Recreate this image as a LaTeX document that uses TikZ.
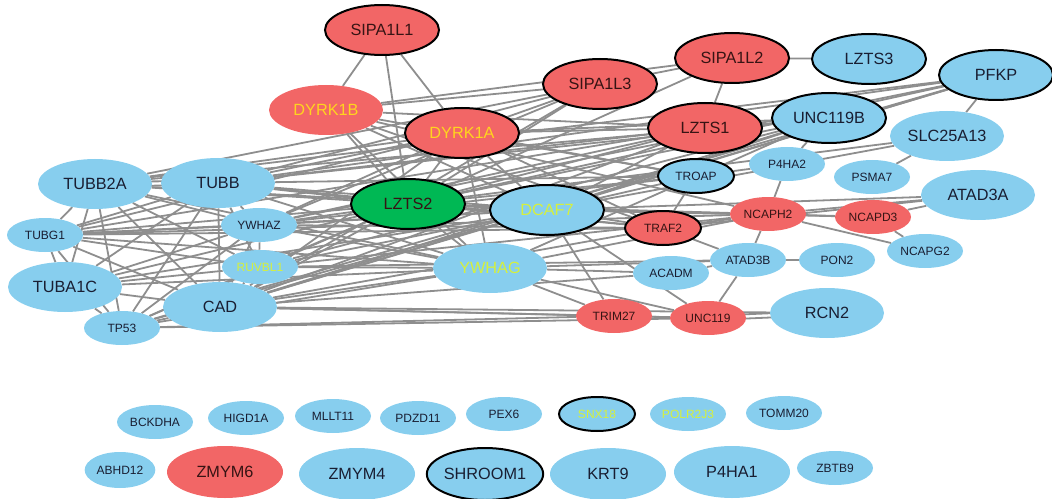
\documentclass[tikz,border=0pt]{standalone}
\usepackage{fontspec}
\setmainfont{Liberation Sans}
\usetikzlibrary{shapes.geometric}
\pgfdeclarelayer{bg}
\pgfsetlayers{bg,main}
\definecolor{nblue}{RGB}{135,206,238}
\definecolor{nred}{RGB}{242,102,102}
\definecolor{ngreen}{RGB}{0,184,84}
\definecolor{nyel}{RGB}{255,212,30}
\definecolor{nlime}{RGB}{214,240,60}
\definecolor{ntext}{RGB}{25,30,50}
\definecolor{rtext}{RGB}{55,20,20}
\definecolor{nedge}{RGB}{142,142,142}
\tikzset{
  nd/.style={ellipse, inner sep=0pt, text=ntext},
  bigE/.style={nd, minimum width=85.5pt, minimum height=37.5pt, font=\fontsize{12.2}{12}\selectfont},
  bigB/.style={nd, minimum width=87pt, minimum height=39pt, font=\fontsize{12.2}{12}\selectfont},
  smallE/.style={nd, minimum width=57pt, minimum height=25.5pt, font=\fontsize{9}{9}\selectfont},
  bl/.style={fill=nblue},
  rd/.style={fill=nred, text=rtext},
  gr/.style={fill=ngreen, text=rtext},
  ring/.style={draw=black, line width=1.5pt},
  ed/.style={draw=nedge, line width=1.35pt},
}
\begin{document}
\begin{tikzpicture}[x=0.75pt,y=-0.75pt]
\useasboundingbox (0,0) rectangle (1052,499);
% upper network
\node[bigE,rd,ring] (s1) at (382,30) {SIPA1L1};
\node[bigE,rd,ring] (s2) at (732,58) {SIPA1L2};
\node[bigE,bl,ring] (lzts3) at (869,59) {LZTS3};
\node[bigE,bl,ring] (pfkp) at (996,75) {PFKP};
\node[bigE,rd,ring] (s3) at (600,84) {SIPA1L3};
\node[bigE,rd,text=nyel] (dyrk1b) at (326,110) {DYRK1B};
\node[bigE,rd,ring,text=nyel] (dyrk1a) at (462,133) {DYRK1A};
\node[bigE,rd,ring] (lzts1) at (705,128) {LZTS1};
\node[bigE,bl,ring] (unc119b) at (829,118) {UNC119B};
\node[bigE,bl] (slc) at (947,136) {SLC25A13};
\node[smallE,bl] (p4ha2) at (787,164) {P4HA2};
\node[smallE,bl] (psma7) at (872,177) {PSMA7};
\node[smallE,bl,ring] (troap) at (696,176) {TROAP};
\node[bigE,bl] (atad3a) at (978,195) {ATAD3A};
\node[bigE,bl] (tubb2a) at (95,184) {TUBB2A};
\node[bigE,bl] (tubb) at (218,183) {TUBB};
\node[bigE,gr,ring] (lzts2) at (408,204) {LZTS2};
\node[bigE,bl,ring,text=nlime] (dcaf7) at (547,210) {DCAF7};
\node[smallE,rd,ring] (traf2) at (663,228) {TRAF2};
\node[smallE,rd] (ncaph2) at (768,214) {NCAPH2};
\node[smallE,rd] (ncapd3) at (873,217) {NCAPD3};
\node[smallE,bl] (ncapg2) at (925,251) {NCAPG2};
\node[smallE,bl] (ywhaz) at (259,225) {YWHAZ};
\node[smallE,bl] (tubg1) at (45,235) {TUBG1};
\node[smallE,bl,text=nlime] (ruvbl1) at (260,267) {RUVBL1};
\node[bigE,bl,text=nlime] (ywhag) at (490,268) {YWHAG};
\node[smallE,bl] (acadm) at (671,273) {ACADM};
\node[smallE,bl] (atad3b) at (748,260) {ATAD3B};
\node[smallE,bl] (pon2) at (837,260) {PON2};
\node[bigE,bl] (tuba1c) at (65,287) {TUBA1C};
\node[bigE,bl] (cad) at (220,307) {CAD};
\node[smallE,bl] (tp53) at (122,328) {TP53};
\node[smallE,rd] (trim27) at (614,316) {TRIM27};
\node[smallE,rd] (unc119) at (708,318) {UNC119};
\node[bigE,bl] (rcn2) at (827,313) {RCN2};
% isolated nodes
\node[smallE,bl] (bckdha) at (155,422) {BCKDHA};
\node[smallE,bl] (higd1a) at (246,418) {HIGD1A};
\node[smallE,bl] (mllt11) at (333,416) {MLLT11};
\node[smallE,bl] (pdzd11) at (418,418) {PDZD11};
\node[smallE,bl] (pex6) at (504,414) {PEX6};
\node[smallE,bl,ring,text=nlime] (snx18) at (597,414) {SNX18};
\node[smallE,bl,text=nlime] (polr2j3) at (688,414) {POLR2J3};
\node[smallE,bl] (tomm20) at (784,413) {TOMM20};
\node[smallE,bl,minimum width=53pt,minimum height=27pt] (abhd12) at (120,470) {ABHD12};
\node[bigB,rd] (zmym6) at (225,472) {ZMYM6};
\node[bigB,bl] (zmym4) at (357,474) {ZMYM4};
\node[bigB,bl,ring] (shroom1) at (485,474) {SHROOM1};
\node[bigB,bl] (krt9) at (608,474) {KRT9};
\node[bigB,bl] (p4ha1) at (732,472) {P4HA1};
\node[smallE,bl] (zbtb9) at (835,468) {ZBTB9};
\begin{pgfonlayer}{bg}
\foreach \a/\b in {
 tubb2a/tubg1, tubb2a/tuba1c, tubb2a/tp53, tubb2a/cad, tubb2a/ywhaz, tubb2a/ruvbl1,
 tubb/tubg1, tubb/tuba1c, tubb/tp53, tubb/cad, tubb/ywhaz, tubb/ruvbl1,
 tubg1/tuba1c, tubg1/tp53, tubg1/cad, tubg1/ywhaz, tubg1/ruvbl1,
 tuba1c/tp53, tuba1c/cad, tuba1c/ywhaz, tuba1c/ruvbl1,
 tp53/cad, tp53/ywhaz, tp53/ruvbl1, cad/ywhaz, cad/ruvbl1, ywhaz/ruvbl1,
 lzts2/tubb, lzts2/tubb2a, lzts2/tubg1, lzts2/ywhaz, lzts2/ruvbl1, lzts2/cad, lzts2/tp53, lzts2/tuba1c,
 dcaf7/tubb, dcaf7/tubb2a, dcaf7/tubg1, dcaf7/ywhaz, dcaf7/ruvbl1, dcaf7/cad, dcaf7/tp53, dcaf7/tuba1c,
 ywhag/tubb, ywhag/tubb2a, ywhag/tubg1, ywhag/ywhaz, ywhag/ruvbl1, ywhag/cad, ywhag/tp53, ywhag/tuba1c,
 dyrk1a/tubb, dyrk1a/tubb2a, dyrk1a/ywhaz, dyrk1a/cad, dyrk1a/tubg1,
 s3/tubb, s3/tubb2a, s3/cad, s3/ywhaz,
 lzts1/tubb, lzts1/tubg1, lzts1/cad, lzts1/ywhaz,
 unc119b/tubb, unc119b/tubb2a, unc119b/cad, unc119b/ruvbl1,
 pfkp/tubb, pfkp/tubb2a, pfkp/cad, pfkp/ywhaz, pfkp/tp53,
 troap/tubb, troap/ywhaz, traf2/tubb, traf2/tubg1, traf2/ywhaz, traf2/cad,
 ncaph2/tubg1, ncaph2/ruvbl1, trim27/cad, trim27/tp53, unc119/tp53, unc119/cad,
 rcn2/cad, acadm/cad, atad3b/ruvbl1,
 s1/dyrk1b, s1/lzts2, s1/dyrk1a,
 dyrk1b/s3, dyrk1b/s2, dyrk1b/lzts2, dyrk1b/dcaf7, dyrk1b/ywhag, dyrk1b/traf2, dyrk1b/troap, dyrk1b/ncaph2, dyrk1b/lzts1,
 dyrk1a/lzts2, dyrk1a/dcaf7, dyrk1a/ywhag, dyrk1a/traf2, dyrk1a/s3, dyrk1a/lzts1, dyrk1a/unc119b, dyrk1a/troap,
 s3/s2, s3/lzts2, s2/lzts3, s2/lzts1, s2/lzts2,
 lzts1/lzts2, lzts1/dcaf7, unc119b/lzts2, unc119b/ywhag, unc119b/p4ha2, unc119b/dcaf7,
 pfkp/slc, pfkp/lzts2, pfkp/dcaf7, slc/psma7, slc/lzts2, slc/dcaf7,
 p4ha2/troap, p4ha2/ncaph2, troap/traf2, troap/lzts2, troap/dcaf7,
 atad3a/ncaph2, atad3a/traf2, atad3a/dcaf7, atad3a/ncapd3,
 traf2/dcaf7, traf2/lzts2, traf2/atad3b, traf2/ncaph2,
 ncaph2/ncapd3, ncaph2/ncapg2, ncaph2/atad3b, ncaph2/dcaf7, ncaph2/lzts2, ncaph2/ywhag,
 ncapd3/ncapg2, ncapd3/dcaf7, atad3b/pon2, atad3b/unc119, atad3b/acadm, atad3b/ywhag,
 acadm/ywhag, unc119/trim27, unc119/ywhag, unc119/dcaf7, trim27/ywhag, trim27/dcaf7,
 ywhag/lzts2, dcaf7/lzts2}
 \draw[ed] (\a) -- (\b);
\foreach \a/\b in {unc119/rcn2, tubb2a/tubb}{
 \draw[ed] ([yshift=1.6pt]\a.center) -- ([yshift=1.6pt]\b.center);
 \draw[ed] ([yshift=-1.6pt]\a.center) -- ([yshift=-1.6pt]\b.center);
}
\end{pgfonlayer}
\end{tikzpicture}
\end{document}
